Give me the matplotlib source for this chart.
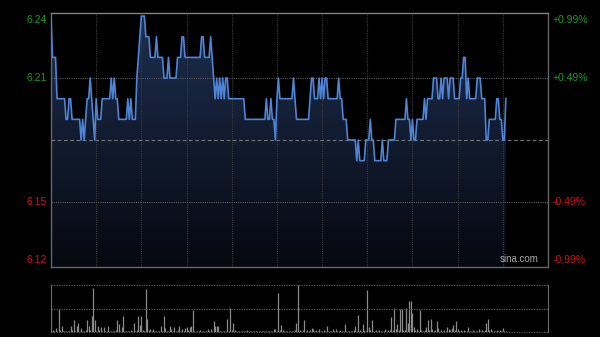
import numpy as np
import matplotlib
import matplotlib.pyplot as plt
from matplotlib.colors import LinearSegmentedColormap

matplotlib.use("Agg")
plt.rcParams["font.family"] = ["Liberation Sans", "DejaVu Sans"]

# one value per trading minute (HK session, 330 minutes in total)
prices = [
    6.24, 6.22, 6.22, 6.22, 6.20, 6.20, 6.20, 6.20, 6.20, 6.20,
    6.19, 6.19, 6.20, 6.20, 6.19, 6.19, 6.19, 6.19, 6.19, 6.19,
    6.18, 6.19, 6.18, 6.19, 6.20, 6.20, 6.21, 6.20, 6.19, 6.18,
    6.20, 6.19, 6.19, 6.19, 6.20, 6.20, 6.20, 6.20, 6.20, 6.20,
    6.21, 6.20, 6.21, 6.20, 6.20, 6.19, 6.19, 6.19, 6.19, 6.19,
    6.19, 6.20, 6.19, 6.20, 6.19, 6.19, 6.19, 6.21, 6.22, 6.23,
    6.24, 6.24, 6.24, 6.23, 6.23, 6.23, 6.22, 6.22, 6.22, 6.22,
    6.23, 6.22, 6.22, 6.22, 6.22, 6.21, 6.21, 6.21, 6.22, 6.21,
    6.21, 6.21, 6.21, 6.21, 6.22, 6.22, 6.22, 6.23, 6.23, 6.22,
    6.22, 6.22, 6.22, 6.22, 6.22, 6.22, 6.22, 6.22, 6.22, 6.22,
    6.23, 6.23, 6.22, 6.22, 6.22, 6.22, 6.23, 6.22, 6.21, 6.20,
    6.21, 6.20, 6.21, 6.20, 6.21, 6.20, 6.21, 6.21, 6.20, 6.20,
    6.20, 6.20, 6.20, 6.20, 6.20, 6.20, 6.20, 6.20, 6.20, 6.19,
    6.19, 6.19, 6.19, 6.19, 6.19, 6.19, 6.19, 6.19, 6.19, 6.19,
    6.19, 6.19, 6.19, 6.20, 6.19, 6.19, 6.20, 6.19, 6.19, 6.18,
    6.20, 6.21, 6.20, 6.20, 6.20, 6.20, 6.20, 6.20, 6.20, 6.20,
    6.20, 6.21, 6.20, 6.19, 6.19, 6.19, 6.19, 6.19, 6.19, 6.19,
    6.19, 6.19, 6.20, 6.21, 6.21, 6.20, 6.20, 6.20, 6.21, 6.20,
    6.21, 6.20, 6.21, 6.21, 6.20, 6.20, 6.20, 6.20, 6.20, 6.20,
    6.20, 6.21, 6.20, 6.20, 6.19, 6.19, 6.19, 6.18, 6.18, 6.18,
    6.18, 6.18, 6.18, 6.17, 6.18, 6.17, 6.17, 6.17, 6.17, 6.18,
    6.18, 6.18, 6.19, 6.18, 6.18, 6.17, 6.17, 6.17, 6.17, 6.17,
    6.18, 6.17, 6.17, 6.17, 6.18, 6.18, 6.18, 6.18, 6.18, 6.19,
    6.19, 6.19, 6.19, 6.19, 6.19, 6.19, 6.20, 6.19, 6.19, 6.18,
    6.19, 6.18, 6.18, 6.19, 6.19, 6.19, 6.19, 6.19, 6.20, 6.19,
    6.20, 6.20, 6.20, 6.20, 6.21, 6.21, 6.21, 6.20, 6.20, 6.21,
    6.20, 6.21, 6.21, 6.21, 6.20, 6.21, 6.21, 6.21, 6.20, 6.20,
    6.20, 6.20, 6.21, 6.21, 6.22, 6.22, 6.20, 6.21, 6.20, 6.20,
    6.20, 6.20, 6.20, 6.21, 6.21, 6.21, 6.20, 6.20, 6.20, 6.18,
    6.18, 6.19, 6.19, 6.19, 6.19, 6.19, 6.20, 6.20, 6.19, 6.19,
    6.18, 6.18, 6.20,
]

# relative volume per minute (tallest bar = 100)
volumes = [
    53, 4, 3, 8, 3, 49, 4, 13, 3, 2,
    3, 2, 3, 13, 4, 26, 3, 12, 20, 3,
    8, 3, 2, 4, 26, 12, 4, 35, 93, 26,
    3, 12, 4, 11, 3, 11, 3, 2, 13, 3,
    2, 3, 2, 4, 25, 18, 3, 11, 33, 3,
    2, 3, 2, 4, 3, 20, 3, 4, 33, 15,
    35, 4, 3, 92, 27, 4, 6, 3, 6, 2,
    3, 2, 3, 12, 3, 33, 8, 3, 2, 13,
    6, 3, 11, 3, 4, 13, 3, 6, 3, 8,
    11, 4, 11, 12, 46, 3, 2, 3, 2, 4,
    2, 3, 2, 3, 7, 2, 6, 3, 23, 12,
    13, 13, 3, 2, 3, 2, 3, 27, 3, 51,
    4, 20, 5, 2, 3, 2, 2, 3, 2, 2,
    4, 2, 2, 3, 2, 2, 3, 2, 2, 3,
    2, 2, 3, 2, 2, 3, 2, 3, 6, 6,
    3, 84, 4, 15, 5, 3, 2, 3, 2, 3,
    2, 3, 4, 20, 100, 4, 3, 4, 26, 3,
    4, 3, 4, 8, 6, 3, 4, 3, 6, 3,
    3, 4, 3, 13, 3, 2, 3, 6, 3, 6,
    3, 2, 4, 3, 2, 18, 3, 2, 3, 2,
    3, 4, 13, 3, 37, 4, 3, 18, 4, 3,
    89, 11, 4, 26, 3, 2, 4, 3, 4, 3,
    2, 3, 6, 3, 5, 4, 32, 4, 51, 6,
    18, 4, 49, 49, 4, 5, 51, 20, 67, 67,
    40, 11, 4, 6, 3, 46, 4, 3, 4, 11,
    26, 4, 27, 6, 3, 4, 23, 8, 3, 4,
    3, 4, 3, 11, 6, 4, 8, 15, 4, 23,
    6, 3, 4, 3, 5, 3, 2, 11, 3, 2,
    4, 3, 2, 3, 6, 3, 5, 3, 4, 19,
    27, 4, 6, 3, 2, 3, 4, 3, 4, 3,
    8, 3, 3,
]

prev_close = 6.18
left_ticks = [6.24, 6.21, 6.15, 6.12]
right_ticks = ["+0.99%", "+0.49%", "-0.49%", "-0.99%"]
tick_colors = ["#1a9e1a", "#1a9e1a", "#d01414", "#d01414"]

minutes = np.arange(len(prices))
total_minutes = 330
ymin, ymax = 6.1185, 6.2415

fig = plt.figure(figsize=(6.0, 3.37), dpi=100, facecolor="black")
ax = fig.add_axes([51 / 600, 70 / 337, 497 / 600, 254 / 337])
axv = fig.add_axes([51 / 600, 5 / 337, 497 / 600, 47 / 337])

for a in (ax, axv):
    a.set_facecolor("black")
    a.set_xlim(0, total_minutes)
    a.set_xticks([])
    a.set_yticks([])

ax.set_ylim(ymin, ymax)
for name, s in ax.spines.items():
    s.set_color("#808080" if name == "top" else "#666666")
    s.set_linewidth(1.0)

# gradient fill under the price line
cmap = LinearSegmentedColormap.from_list("fill", ["#060810", "#1d2f4f"])
grad = np.linspace(0, 1, 256).reshape(-1, 1)
im = ax.imshow(grad, cmap=cmap, origin="lower", aspect="auto",
               extent=(0, total_minutes, ymin, ymax), zorder=1)
poly = ax.fill_between(minutes, prices, ymin, color="none", lw=0)
im.set_clip_path(poly.get_paths()[0], transform=ax.transData)

# grid (drawn over the fill)
for m in range(30, total_minutes, 30):
    ax.axvline(m, color="#3c3c3c", lw=0.8, ls=(0, (1, 1)), zorder=2)
for lv in (6.21, 6.15):
    ax.axhline(lv, color="#5c5c5c", lw=0.8, ls=(0, (1, 1)), zorder=2)
ax.axhline(prev_close, color="#6e6e6e", lw=0.9, ls=(0, (3, 2)), zorder=3)

ax.plot(minutes, prices, color="#4e84d6", lw=1.2, zorder=4)

# labels
tfs = 7.5
for v, lab, col in zip(left_ticks, right_ticks, tick_colors):
    if v == 6.12:
        va, y = "bottom", ymin + 0.0012
    elif v == 6.24:
        va, y = "top", ymax - 0.0012
    else:
        va, y = "center", v
    ax.text(-0.008, y, f"{v:.2f}", transform=ax.get_yaxis_transform(),
            ha="right", va=va, color=col, fontsize=tfs)
    ax.text(1.01, y, lab, transform=ax.get_yaxis_transform(),
            ha="left", va=va, color=col, fontsize=tfs)

ax.text(0.982, 0.012, "sina.com", transform=ax.transAxes, ha="right",
        va="bottom", color="#a8a8a8", fontsize=7)

# volume panel
axv.set_ylim(0, 100)
axv.vlines(minutes, 0, volumes, color="#8a8a8a", lw=0.9)
for s in ("top", "bottom"):
    axv.spines[s].set_visible(False)
for s in ("left", "right"):
    axv.spines[s].set_color("#6a6a6a")
for lv in (0, 50, 100):
    axv.axhline(lv, color="#5a5a5a", lw=0.9, ls=(0, (1, 1)), clip_on=False)

fig.savefig("out.png", dpi=100, facecolor="black")
